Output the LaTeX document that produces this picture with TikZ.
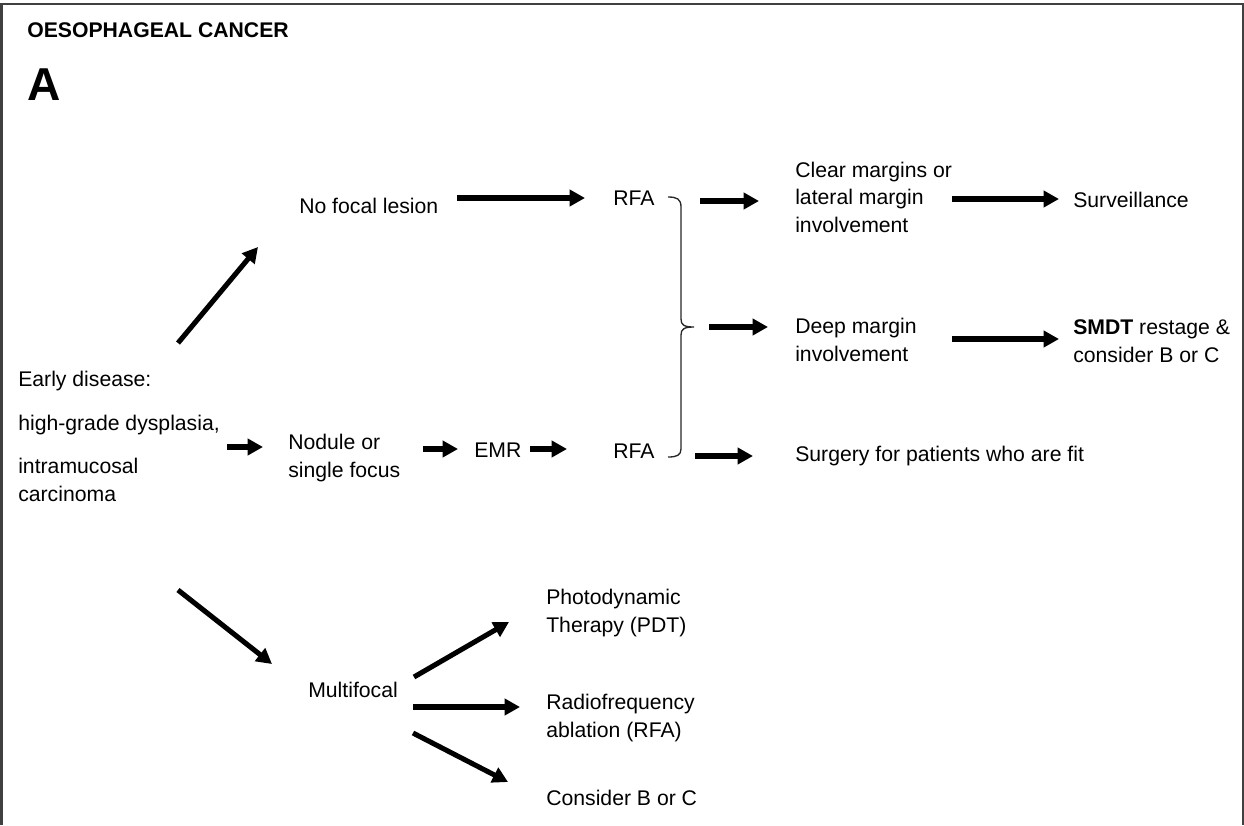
\documentclass[tikz,border=0pt]{standalone}
\usepackage{fontspec}
\setmainfont{Liberation Sans}
\usetikzlibrary{arrows.meta}
\begin{document}
\begin{tikzpicture}[x=0.75pt,y=-0.75pt,
  txt/.style={anchor=base west,inner sep=0pt,align=left,
    font=\fontsize{15.9}{20.6}\selectfont},
  arr/.style={line width=3.8pt,-{Triangle[length=11.5pt,width=12pt]}},
  bracket/.style={line width=1pt,black!85}]
\useasboundingbox (0,0) rectangle (1244,825);

% frame, open at the bottom
\draw[line width=1.5pt,black!75] (1.5,825) -- (1.5,4) -- (1242.5,4) -- (1242.5,825);

% headings
\node[txt,font=\bfseries\fontsize{15.9}{19}\selectfont] (title) at (27,37) {OESOPHAGEAL CANCER};
\node[txt,font=\bfseries\fontsize{34.6}{40}\selectfont] (panel) at (27,100) {A};

% text blocks (multi-line blocks are placed by the baseline of their last line)
\node[txt] (early) at (18,501) {Early disease:\\[12.2pt]high-grade dysplasia,\\[11.6pt]intramucosal\\carcinoma};
\node[txt] (nofocal) at (299,213) {No focal lesion};
\node[txt] (nodule) at (288,477) {Nodule or\\single focus};
\node[txt] (multi) at (308,697) {Multifocal};
\node[txt] (emr) at (474,457) {EMR};
\node[txt] (rfa1) at (613,205) {RFA};
\node[txt] (rfa2) at (613,458) {RFA};
\node[txt] (clear) at (795,232) {Clear margins or\\lateral margin\\involvement};
\node[txt] (deep) at (795,361) {Deep margin\\involvement};
\node[txt] (surgery) at (795,461) {Surgery for patients who are fit};
\node[txt] (surv) at (1073,207) {Surveillance};
\node[txt] (smdt) at (1073,362) {\textbf{SMDT} restage \&\\consider B or C};
\node[txt] (pdt) at (546,632) {Photodynamic\\Therapy (PDT)};
\node[txt] (rfabl) at (546,737) {Radiofrequency\\ablation (RFA)};
\node[txt] (bc) at (546,805) {Consider B or C};

% arrow end points
\coordinate (up0) at (178,343);   \coordinate (up1) at (258,247);
\coordinate (dn0) at (178,590);   \coordinate (dn1) at (272,664);
\coordinate (nd0) at (227,447);   \coordinate (nd1) at (263,447);
\coordinate (nf0) at (457,198);   \coordinate (nf1) at (585,198);
\coordinate (em0) at (423,449);   \coordinate (em1) at (458,449);
\coordinate (rf0) at (530,449);   \coordinate (rf1) at (567,449);
\coordinate (cl0) at (700,201);   \coordinate (cl1) at (759,201);
\coordinate (dp0) at (709,327);   \coordinate (dp1) at (768,327);
\coordinate (sg0) at (695,456);   \coordinate (sg1) at (753,456);
\coordinate (sv0) at (952,199);   \coordinate (sv1) at (1059,199);
\coordinate (sm0) at (952,339);   \coordinate (sm1) at (1059,339);
\coordinate (pd0) at (414,677);   \coordinate (pd1) at (509,622);
\coordinate (ra0) at (413,707);   \coordinate (ra1) at (520,707);
\coordinate (bc0) at (413,733);   \coordinate (bc1) at (508,782);

\draw[arr] (up0) -- (up1);
\draw[arr] (dn0) -- (dn1);
\draw[arr] (nd0) -- (nd1);
\draw[arr] (nf0) -- (nf1);
\draw[arr] (em0) -- (em1);
\draw[arr] (rf0) -- (rf1);
\draw[arr] (cl0) -- (cl1);
\draw[arr] (dp0) -- (dp1);
\draw[arr] (sg0) -- (sg1);
\draw[arr] (sv0) -- (sv1);
\draw[arr] (sm0) -- (sm1);
\draw[arr] (pd0) -- (pd1);
\draw[arr] (ra0) -- (ra1);
\draw[arr] (bc0) -- (bc1);

% curly bracket joining the two RFA outcomes
\draw[bracket] (668,197) .. controls (677,197) and (681,199) .. (681,207)
  -- (681,319) .. controls (681,325) and (684,327) .. (694,327)
  .. controls (684,327) and (681,329) .. (681,335)
  -- (681,449) .. controls (681,455) and (677,457) .. (668,457);
\end{tikzpicture}
\end{document}
